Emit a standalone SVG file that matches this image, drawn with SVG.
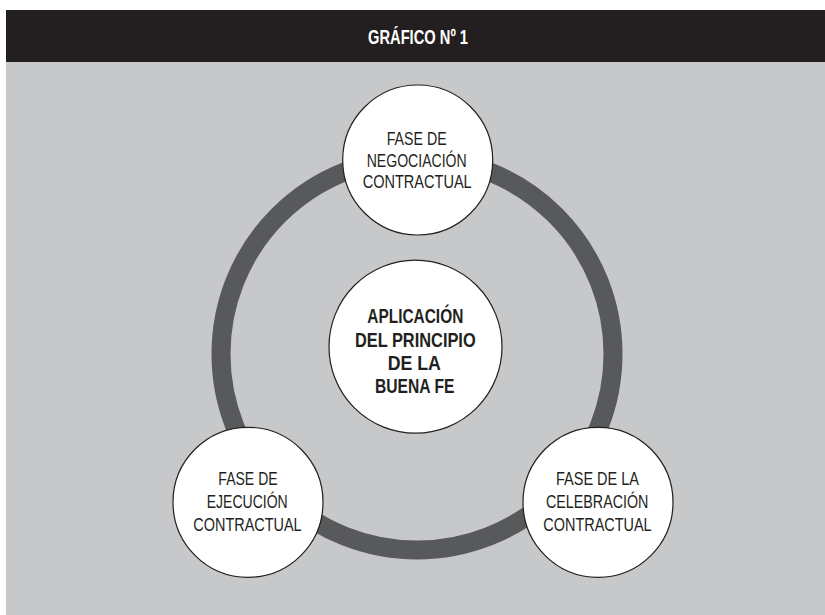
<svg xmlns="http://www.w3.org/2000/svg" width="825" height="615" viewBox="0 0 825 615">
<style>
.bg{fill:#c7c8ca}
.bar{fill:#231f20}
.ring{fill:none;stroke:#58595b;stroke-width:19}
.node{fill:#ffffff;stroke:#231f20;stroke-width:1.2}
.t{font-family:"Liberation Sans",Arial,sans-serif;font-size:18.5px;fill:#231f20;text-anchor:middle}
.b{font-family:"Liberation Sans",Arial,sans-serif;font-size:21px;font-weight:bold;fill:#231f20;text-anchor:middle}
.h{font-family:"Liberation Sans",Arial,sans-serif;font-size:21px;font-weight:bold;fill:#ffffff;text-anchor:middle}
</style>
<rect x="0" y="0" width="825" height="615" fill="#ffffff"/>
<rect class="bg" x="6" y="62" width="819" height="553"/>
<g id="header">
<rect class="bar" x="6" y="10" width="819" height="52"/>
<text class="h" x="418" y="43.5" textLength="100" lengthAdjust="spacingAndGlyphs">GRÁFICO Nº 1</text>
</g>
<g id="connectors">
<circle class="ring" cx="417" cy="354" r="196"/>
</g>
<g id="node-centro">
<circle class="node" cx="415.5" cy="346.7" r="86.5"/>
<text class="b" x="415.3" y="323.3" textLength="96" lengthAdjust="spacingAndGlyphs">APLICACIÓN</text>
<text class="b" x="415.3" y="346.7" textLength="120.7" lengthAdjust="spacingAndGlyphs">DEL PRINCIPIO</text>
<text class="b" x="414.3" y="370" textLength="53.3" lengthAdjust="spacingAndGlyphs">DE LA</text>
<text class="b" x="414.7" y="392.7" textLength="79.3" lengthAdjust="spacingAndGlyphs">BUENA FE</text>
</g>
<g id="node-negociacion">
<circle class="node" cx="417.7" cy="160" r="75"/>
<text class="t" x="416.7" y="145" textLength="60" lengthAdjust="spacingAndGlyphs">FASE DE</text>
<text class="t" x="416.7" y="166.7" textLength="100" lengthAdjust="spacingAndGlyphs">NEGOCIACIÓN</text>
<text class="t" x="417.2" y="188.3" textLength="109" lengthAdjust="spacingAndGlyphs">CONTRACTUAL</text>
</g>
<g id="node-ejecucion">
<circle class="node" cx="248" cy="502.3" r="75"/>
<text class="t" x="248" y="485" textLength="59.3" lengthAdjust="spacingAndGlyphs">FASE DE</text>
<text class="t" x="247.2" y="508.3" textLength="81" lengthAdjust="spacingAndGlyphs">EJECUCIÓN</text>
<text class="t" x="247.5" y="530.7" textLength="108.3" lengthAdjust="spacingAndGlyphs">CONTRACTUAL</text>
</g>
<g id="node-celebracion">
<circle class="node" cx="598" cy="502.3" r="75"/>
<text class="t" x="597.5" y="485" textLength="83" lengthAdjust="spacingAndGlyphs">FASE DE LA</text>
<text class="t" x="597.2" y="508.3" textLength="102.3" lengthAdjust="spacingAndGlyphs">CELEBRACIÓN</text>
<text class="t" x="597.5" y="530.7" textLength="108.3" lengthAdjust="spacingAndGlyphs">CONTRACTUAL</text>
</g>
</svg>
